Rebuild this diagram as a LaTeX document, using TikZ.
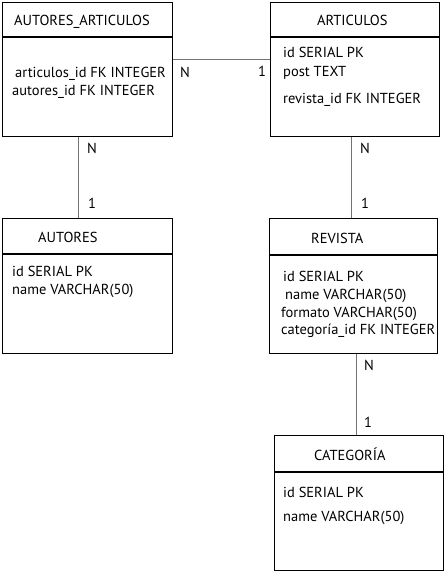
\documentclass[tikz,border=0pt]{standalone}
\usepackage{fontspec}
\setmainfont{PT Sans}
\usetikzlibrary{calc}
\tikzset{
  tbl/.style={draw=black, line width=1.1pt, rectangle, inner sep=0pt, anchor=north west},
  hdr/.style={draw=black, line width=1.1pt},
  conn/.style={draw=black!55, line width=1.2pt},
  txt/.style={anchor=base west, inner sep=0pt, font=\fontsize{14.5}{16}\selectfont},
}
\begin{document}
\begin{tikzpicture}[x=1pt, y=-1pt]
\useasboundingbox (0,0) rectangle (445,571);
% tables
\node[tbl, minimum width=170pt, minimum height=134pt] (aa) at (2,2) {};
\node[tbl, minimum width=169pt, minimum height=134pt] (ar) at (270,2) {};
\node[tbl, minimum width=170pt, minimum height=135pt] (au) at (2,218) {};
\node[tbl, minimum width=168pt, minimum height=135pt] (rv) at (269,218) {};
\node[tbl, minimum width=169pt, minimum height=135pt] (ca) at (274,435) {};
% header separators
\draw[hdr] ($(aa.north west)+(0,35)$) -- ($(aa.north east)+(0,35)$);
\draw[hdr] ($(ar.north west)+(0,35)$) -- ($(ar.north east)+(0,35)$);
\draw[hdr] ($(au.north west)+(0,36)$) -- ($(au.north east)+(0,36)$);
\draw[hdr] ($(rv.north west)+(0,37)$) -- ($(rv.north east)+(0,37)$);
\draw[hdr] ($(ca.north west)+(0,37)$) -- ($(ca.north east)+(0,37)$);
% connectors
\draw[conn] ([yshift=10pt]aa.east) -- ([yshift=10pt]aa.east -| ar.west);
\draw[conn] ([xshift=-9pt]aa.south) -- ([xshift=-9pt]aa.south |- au.north);
\draw[conn] ([xshift=-3.5pt]ar.south) -- ([xshift=-3.5pt]ar.south |- rv.north);
\draw[conn] ([xshift=3pt]rv.south) -- ([xshift=3pt]rv.south |- ca.north);
% cardinalities
\node[txt] (c1) at (180,77) {N};
\node[txt] (c2) at (258,76) {1};
\node[txt] (c3) at (87,153) {N};
\node[txt] (c4) at (88,208) {1};
\node[txt] (c5) at (360,153) {N};
\node[txt] (c6) at (361,208) {1};
\node[txt] (c7) at (364,370) {N};
\node[txt] (c8) at (364,427) {1};
% AUTORES_ARTICULOS
\node[txt] (t1) at (14,25) {AUTORES\_ARTICULOS};
\node[txt] (t1a) at (15,77) {articulos\_id FK INTEGER};
\node[txt] (t1b) at (12,95) {autores\_id FK INTEGER};
% ARTICULOS
\node[txt] (t2) at (317,25) {ARTICULOS};
\node[txt] (t2a) at (283,57) {id SERIAL PK};
\node[txt] (t2b) at (283,76) {post TEXT};
\node[txt] (t2c) at (283,103) {revista\_id FK INTEGER};
% AUTORES
\node[txt] (t3) at (38,242) {AUTORES};
\node[txt] (t3a) at (12,276) {id SERIAL PK};
\node[txt] (t3b) at (12,294) {name VARCHAR(50)};
% REVISTA
\node[txt] (t4) at (311,243) {REVISTA};
\node[txt] (t4a) at (283,281) {id SERIAL PK};
\node[txt] (t4b) at (285,299) {name VARCHAR(50)};
\node[txt] (t4c) at (281,317) {formato VARCHAR(50)};
\node[txt] (t4d) at (281,334) {categoría\_id FK INTEGER};
% CATEGORIA
\node[txt] (t5) at (314,460) {CATEGORÍA};
\node[txt] (t5a) at (283,497) {id SERIAL PK};
\node[txt] (t5b) at (283,521) {name VARCHAR(50)};
\end{tikzpicture}
\end{document}
